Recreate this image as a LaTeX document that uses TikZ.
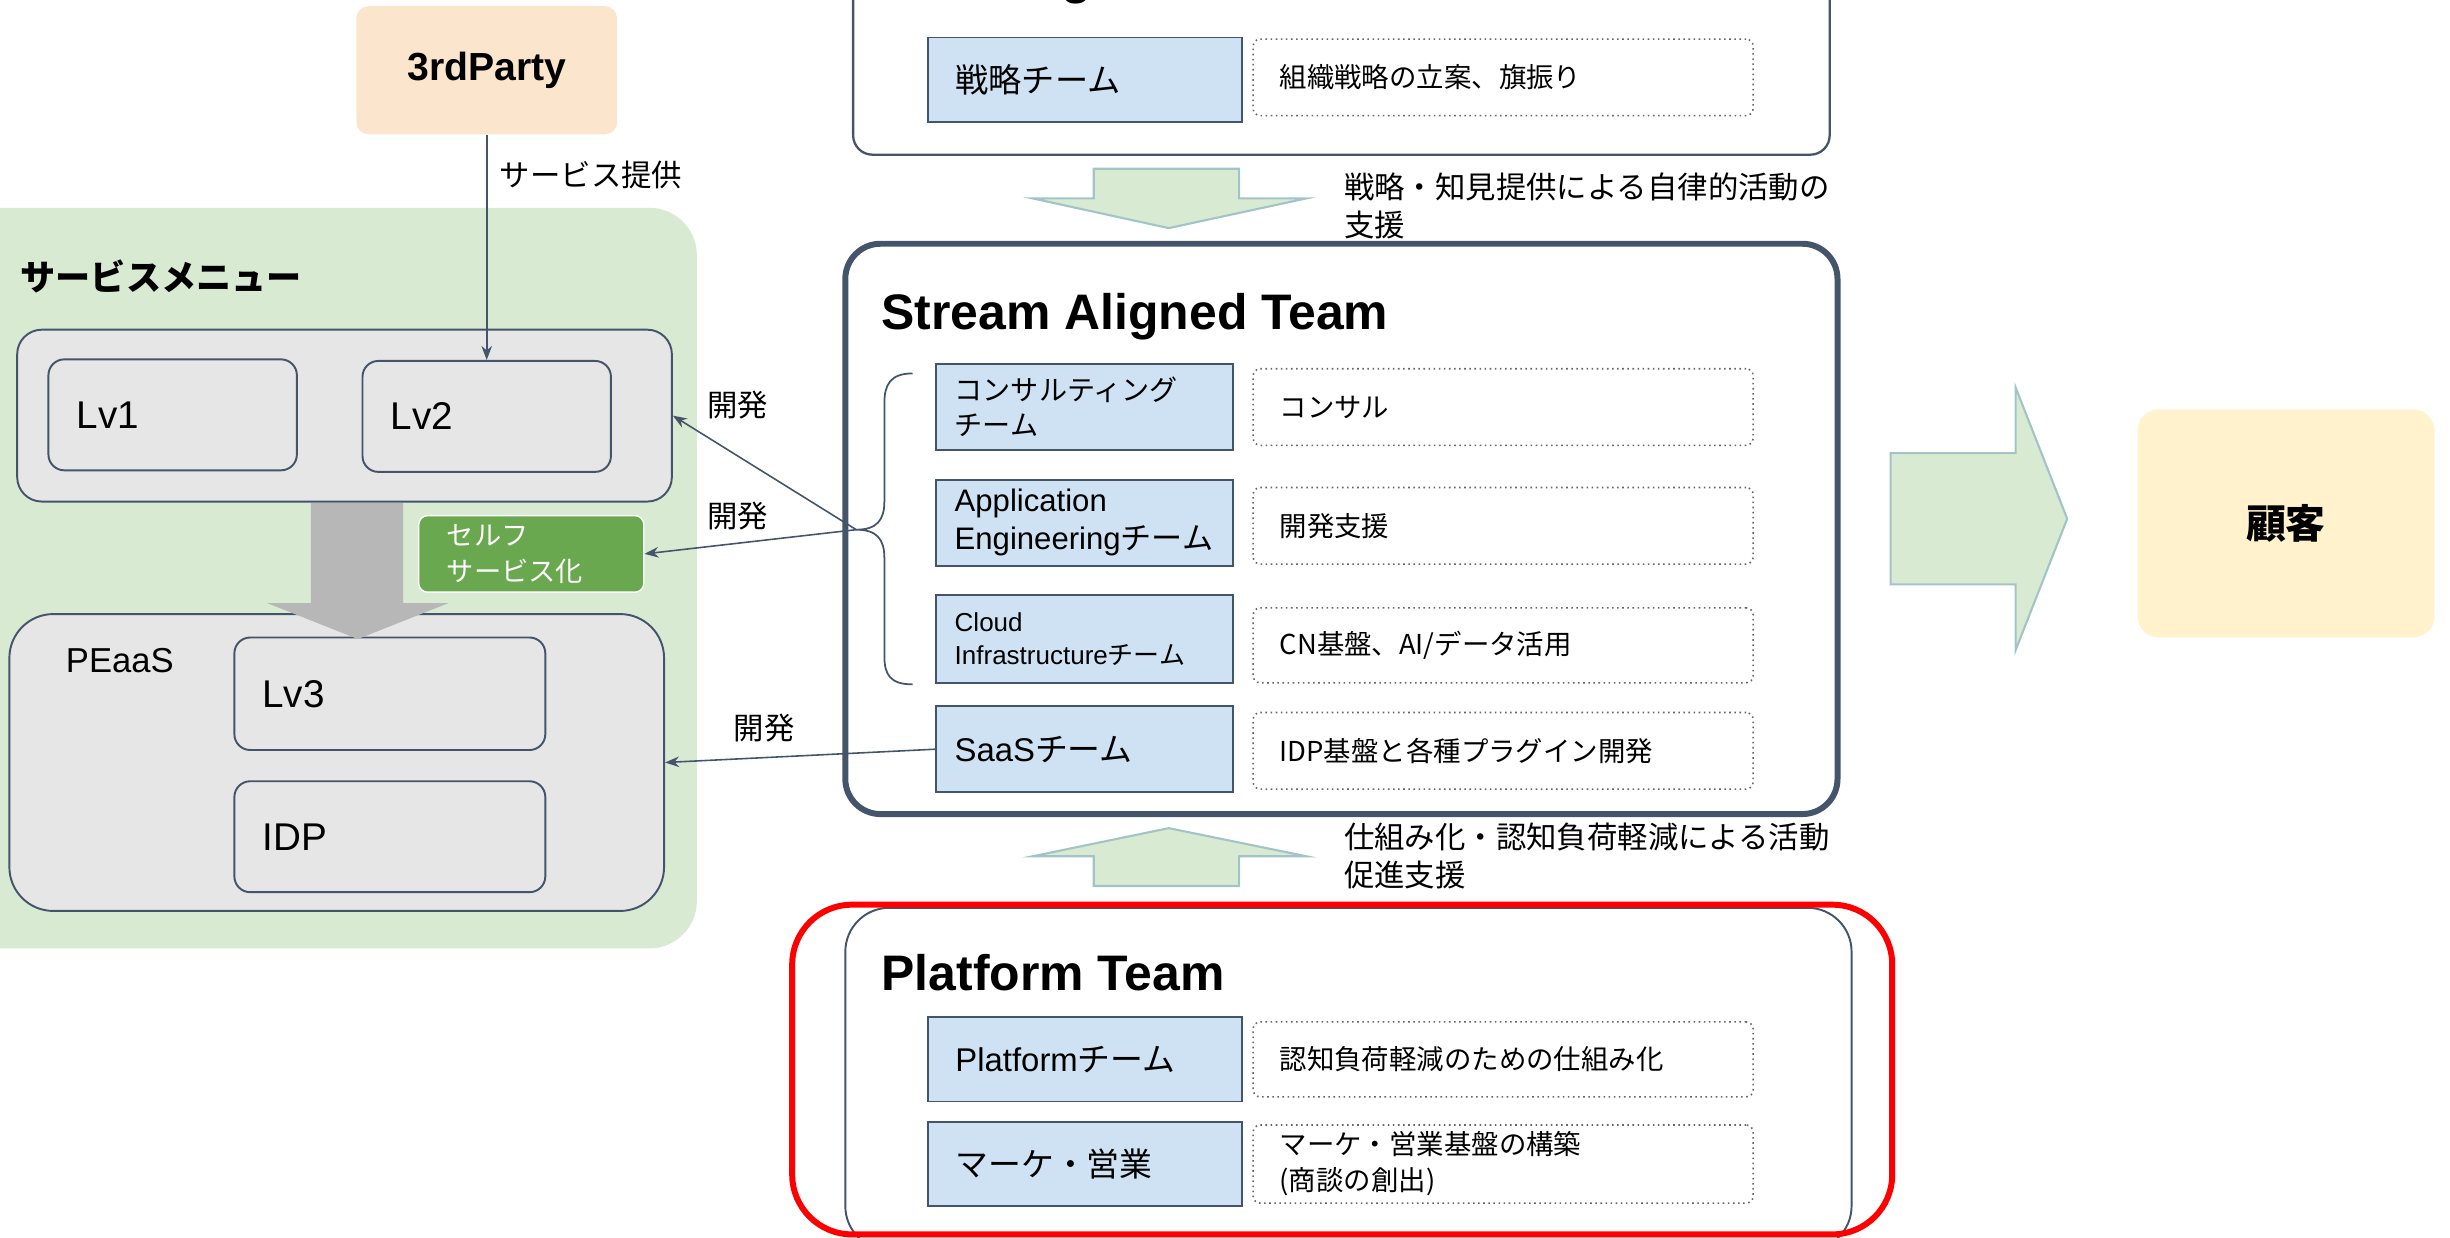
\documentclass[tikz,border=0pt]{standalone}
\usepackage{fontspec}
\setmainfont{Liberation Sans}
\newfontfamily\jp{Noto Sans CJK JP}
\usepackage{tikz}
\usetikzlibrary{
    arrows.meta,
    positioning
}
\definecolor{slate}{RGB}{68,84,106}
\definecolor{teamblue}{RGB}{207,226,243}
\definecolor{boxgray}{RGB}{230,230,230}
\definecolor{menugreen}{RGB}{217,234,211}
\definecolor{arrowedge}{RGB}{162,196,201}
\definecolor{selfgreen}{RGB}{106,168,79}
\definecolor{peach}{RGB}{252,229,205}
\definecolor{cream}{RGB}{255,242,204}
\definecolor{bigarrowgray}{RGB}{183,183,183}
\newcommand{\px}{0.03125cm}
\newcommand{\fs}[2]{\fontsize{#1pt}{#2pt}\selectfont}

\begin{document}
\begin{tikzpicture}[
    x=\px, y=-\px,
    teamframe/.style={
        rectangle, draw=slate, inner sep=0pt
    },
    teambox/.style={
        rectangle, draw=slate, line width=1pt, fill=teamblue,
        minimum width=190*\px, minimum height=55*\px,
        text width=166*\px, align=left, inner sep=0pt
    },
    descbox/.style={
        rectangle, rounded corners=4pt, draw=black!60, dotted, line width=0.9pt,
        minimum width=320*\px, minimum height=49*\px,
        text width=286*\px, align=left, inner sep=0pt, font=\jp\fs{15.6}{20.5}
    },
    lvbox/.style={
        rectangle, rounded corners=9pt, draw=slate, line width=1.1pt, fill=boxgray,
        minimum width=159*\px, minimum height=71*\px,
        text width=123*\px, align=left, inner sep=0pt, font=\fs{22}{26}
    },
    groupbox/.style={
        rectangle, rounded corners=14pt, draw=slate, line width=1.1pt,
        fill=boxgray, minimum width=419*\px, inner sep=0pt
    },
    selfbox/.style={
        rectangle, rounded corners=5pt, draw=white, line width=0.8pt, fill=selfgreen,
        text=white, minimum width=144*\px, minimum height=49*\px,
        text width=108*\px, align=left, inner sep=0pt, font=\jp\fs{15.5}{20.5}
    },
    blockarrow/.style={fill=menugreen, draw=arrowedge, line width=1.2pt, line join=miter},
    conn/.style={draw=slate, line width=0.9pt, -{Stealth[length=8pt, width=6pt]}},
    teamtitle/.style={anchor=base west, inner sep=0pt, font=\fs{28.4}{34}\bfseries},
    note/.style={inner sep=0pt, font=\jp\fs{17.3}{21.5}, align=left}
]
\useasboundingbox (0,0) rectangle (1568,792);

% Enabling Team (cut by the top edge)
\node[teamframe, line width=1.3pt, rounded corners=11pt,
      minimum width=625*\px, minimum height=139*\px] (enabling) at (858.5,29.5) {};
\node[teamtitle] (enabtitle) at (564,-4) {Enabling Team};
\node[teambox, minimum width=201*\px, minimum height=54*\px, font=\jp\fs{18.9}{22}] (strat) at (694.5,51) {戦略チーム};
\node[descbox] (stratdesc) at (962,49.5) {組織戦略の立案、旗振り};

% support arrow down
\draw[blockarrow] (700,108) -- (793,108) -- (793,127) -- (836,127) -- (748,146) -- (661,127) -- (700,127) -- cycle;
\node[note, anchor=west] (downlbl) at (860,132) {戦略・知見提供による自律的活動の\\支援};

% Stream Aligned Team
\node[teamframe, line width=3.4pt, rounded corners=20pt,
      minimum width=635*\px, minimum height=365*\px] (sat) at (858.5,338.5) {};
\node[teamtitle] (sattitle) at (564,211) {Stream Aligned Team};
\node[teambox, font=\jp\fs{16}{20}] (cons) at (694,260.5) {コンサルティング\\チーム};
\node[teambox, font=\fs{17.7}{21.5}] (appeng) at (694,334.5) {Application\\Engineering{\jp チーム}};
\node[teambox, minimum height=56*\px, font=\fs{14.8}{19}] (cloud) at (694,409) {Cloud\\Infrastructure{\jp チーム}};
\node[teambox, font=\fs{18.7}{22}] (saas) at (694,479.5) {SaaS{\jp チーム}};
\node[descbox] (consdesc) at (962,260.5) {コンサル};
\node[descbox] (appdesc) at (962,336.5) {開発支援};
\node[descbox, minimum height=48*\px] (clouddesc) at (962,413) {CN基盤、AI/データ活用};
\node[descbox] (saasdesc) at (962,480.5) {IDP基盤と各種プラグイン開発};

% support arrow up
\draw[blockarrow] (700,567) -- (793,567) -- (793,548) -- (836,548) -- (748,530) -- (661,548) -- (700,548) -- cycle;
\node[note, anchor=west] (uplbl) at (860,548) {仕組み化・認知負荷軽減による活動\\促進支援};

% Platform Team
\node[teamframe, line width=1.1pt, rounded corners=25pt,
      minimum width=644*\px, minimum height=219*\px] (pt) at (863,690.5) {};
\node[rectangle, draw=red, line width=3.4pt, rounded corners=34pt, inner sep=0pt,
      minimum width=704*\px, minimum height=211*\px] (highlight) at (859,684.5) {};
\node[teamtitle] (pttitle) at (564,634) {Platform Team};
\node[teambox, minimum width=201*\px, minimum height=54*\px, font=\fs{18.7}{22}] (platform) at (694.5,678) {Platform{\jp チーム}};
\node[teambox, minimum width=201*\px, minimum height=54*\px, font=\jp\fs{18.7}{22}] (sales) at (694.5,745) {マーケ・営業};
\node[descbox, minimum height=48*\px] (platdesc) at (962,678) {認知負荷軽減のための仕組み化};
\node[descbox, minimum height=50*\px] (salesdesc) at (962,745) {マーケ・営業基盤の構築\\(商談の創出)};

% Service menu
\fill[menugreen, rounded corners=27pt] (-30,133) rectangle (446,607);
\node[anchor=west, inner sep=0pt, font=\jp\fs{20}{24}\bfseries] (menutitle) at (13,177) {サービスメニュー};
\node[groupbox, minimum height=110*\px] (lv12) at (220.5,266) {};
\node[lvbox] (lv1) at (110.5,265.5) {Lv1};
\node[lvbox] (lv2) at (311.5,266.5) {Lv2};
\node[groupbox, rounded corners=25pt, minimum height=190*\px] (peaas) at (215.5,488) {};
\node[anchor=west, inner sep=0pt, font=\fs{19.7}{24}] (peaaslbl) at (42,423) {PEaaS};
\node[lvbox, minimum width=199*\px, minimum height=72*\px, text width=163*\px] (lv3) at (249.5,444) {Lv3};
\node[lvbox, minimum width=199*\px, text width=163*\px] (idp) at (249.5,535.5) {IDP};
\fill[bigarrowgray] (199,322) -- (258,322) -- (258,386) -- (287,386) -- (229,409) -- (171,386) -- (199,386) -- cycle;
\node[selfbox] (self) at (340,354.5) {セルフ\\サービス化};

% 3rdParty
\node[rectangle, rounded corners=7pt, fill=peach, minimum width=167*\px, minimum height=82*\px,
      font=\fs{22.3}{26}\bfseries] (party) at (311.5,45) {3rdParty};
\draw[conn] (party.south) -- (lv2.north)
    node[note, pos=0.18, anchor=west, xshift=7pt] (provide) {サービス提供};

% Development links
\coordinate (bracetip) at (548,339);
\draw[slate, line width=1pt] (584,239) .. controls (570,239) and (566,246) .. (566,258) -- (566,321)
    .. controls (566,333) and (561,339) .. (bracetip)
    .. controls (561,339) and (566,345) .. (566,357) -- (566,420)
    .. controls (566,432) and (570,438) .. (584,438);
\draw[conn] (bracetip) -- (lv12.east);
\draw[conn] (bracetip) -- (self.east);
\draw[conn] (saas.west) -- (peaas.east);
\node[note] (dev1) at (472,259) {開発};
\node[note] (dev2) at (472,330) {開発};
\node[note] (dev3) at (489,466) {開発};

% Customer
\draw[blockarrow] (1210,290) -- (1290,290) -- (1290,248) -- (1323,332) -- (1290,416) -- (1290,374) -- (1210,374) -- cycle;
\node[rectangle, rounded corners=12pt, fill=cream, minimum width=190*\px, minimum height=146*\px,
      font=\jp\fs{22.7}{26}\bfseries] (customer) at (1463,335) {顧客};

\end{tikzpicture}
\end{document}
